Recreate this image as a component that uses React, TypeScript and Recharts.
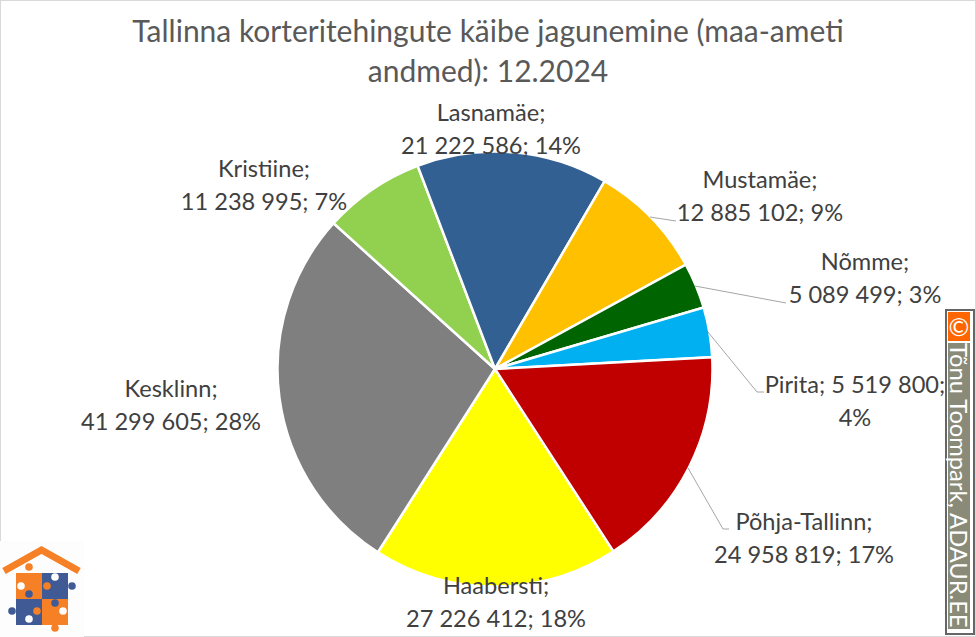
import { PieChart, Pie, Cell } from 'recharts';

const districts = ['Haabersti', 'Kesklinn', 'Kristiine', 'Lasnamäe', 'Mustamäe', 'Nõmme', 'Pirita', 'Põhja-Tallinn'];
const turnover = [27226412, 41299605, 11238995, 21222586, 12885102, 5089499, 5519800, 24958819];
const sliceColors = ['#FFFF00', '#7F7F7F', '#92D050', '#336092', '#FFC000', '#006400', '#00B0F0', '#C00000'];

// label text lines per slice, same order as districts
const labelLines = [
  ['Haabersti;', '27 226 412; 18%'],
  ['Kesklinn;', '41 299 605; 28%'],
  ['Kristiine;', '11 238 995; 7%'],
  ['Lasnamäe;', '21 222 586; 14%'],
  ['Mustamäe;', '12 885 102; 9%'],
  ['Nõmme;', '5 089 499; 3%'],
  ['Pirita; 5 519 800;', '4%'],
  ['Põhja-Tallinn;', '24 958 819; 17%'],
];

// hand placed, Excel moved these around
const labelAnchors = [
  { x: 496, y: 594 },
  { x: 171, y: 397 },
  { x: 264, y: 177 },
  { x: 491, y: 121 },
  { x: 760, y: 188 },
  { x: 865, y: 270 },
  { x: 855, y: 393 },
  { x: 804, y: 530 },
];

const leaderLines: Record<number, string> = {
  4: '650,217 676,221',
  5: '695,286 786,303',
  6: '708,332 757,392 764,392',
  7: '688,468 723,529 729,529',
};

const chartData = districts.map((name, i) => ({ name, value: turnover[i] }));

const renderLabel = ({ index }: { index: number }) => {
  const pos = labelAnchors[index];
  return (
    <g key={index}>
      {leaderLines[index] && <polyline points={leaderLines[index]} fill="none" stroke="#A6A6A6" strokeWidth={1} />}
      <text x={pos.x} y={pos.y} textAnchor="middle" fontFamily="Lato" fontSize={23.6} fill="#404040">
        <tspan x={pos.x}>{labelLines[index][0]}</tspan>
        <tspan x={pos.x} dy={33}>{labelLines[index][1]}</tspan>
      </text>
    </g>
  );
};

function Logo() {
  const orange = '#F58026';
  const blue = '#3F5A94';
  return (
    <svg width={84} height={96} viewBox="0 0 84 96" style={{ position: 'absolute', left: 0, top: 541 }}>
      <rect width={84} height={96} fill="#FDFDFD" />
      <polyline points="4,30 41.5,9 79,30" fill="none" stroke={orange} strokeWidth={7} />
      <circle cx={29} cy={26} r={3.8} fill={orange} />
      <rect x={16} y={32} width={26} height={26} fill={orange} />
      <rect x={42} y={32} width={26} height={26} fill={blue} />
      <rect x={16} y={58} width={26} height={26} fill={blue} />
      <rect x={42} y={58} width={26} height={26} fill={orange} />
      <circle cx={72} cy={45} r={3.8} fill={blue} />
      <circle cx={12} cy={70} r={3.8} fill={blue} />
      <circle cx={55} cy={87} r={3.8} fill={orange} />
      <circle cx={47} cy={45} r={3.8} fill={orange} />
      <circle cx={55} cy={36} r={3.8} fill="#FDFDFD" />
      <circle cx={21} cy={45} r={3.8} fill="#FDFDFD" />
      <circle cx={29} cy={53} r={3.8} fill={blue} />
      <circle cx={37} cy={70} r={3.8} fill={orange} />
      <circle cx={55} cy={62} r={3.8} fill={blue} />
      <circle cx={63} cy={70} r={3.8} fill="#FDFDFD" />
      <circle cx={29} cy={78} r={3.8} fill="#FDFDFD" />
    </svg>
  );
}

function Watermark() {
  return (
    <div style={{ position: 'absolute', left: 945, top: 309, width: 30, height: 326, boxSizing: 'border-box', border: '2px solid #666666', background: '#FFFFFF', padding: 1 }}>
      <div style={{ width: 22, height: 29, background: '#FF6600', color: '#FFFFFF', fontFamily: 'Lato', fontSize: 25, lineHeight: '29px', textAlign: 'center' }}>©</div>
      <div style={{ width: 22, height: 286, marginTop: 2, background: '#8A8A78', color: '#FFFFFF', fontFamily: 'Lato', fontSize: 23.7, lineHeight: '23px', writingMode: 'vertical-rl', whiteSpace: 'nowrap' }}>
        Tõnu Toompark, ADAUR.EE
      </div>
    </div>
  );
}

export default function App() {
  return (
    <div style={{ position: 'absolute', left: 0, top: 0, width: 976, height: 637, background: '#FFFFFF', overflow: 'hidden' }}>
      <div style={{ position: 'absolute', left: 0, top: 0, width: 976, height: 637, boxSizing: 'border-box', border: '1px solid #D9D9D9' }} />
      <div style={{ position: 'absolute', left: 0, top: 10, width: 976, textAlign: 'center', fontFamily: 'Lato', fontSize: 30, lineHeight: '40px', color: '#595959' }}>
        Tallinna korteritehingute käibe jagunemine (maa-ameti
        <br />
        andmed): 12.2024
      </div>
      <div style={{ position: 'absolute', left: 0, top: 0 }}>
        <PieChart width={976} height={637} margin={{ top: 0, right: 0, bottom: 0, left: 0 }}>
          <Pie
            data={chartData}
            dataKey="value"
            nameKey="name"
            cx={495}
            cy={369}
            innerRadius={0}
            outerRadius={217.5}
            startAngle={-57}
            endAngle={-417}
            stroke="#FFFFFF"
            strokeWidth={2.5}
            label={renderLabel}
            labelLine={false}
            isAnimationActive={false}
          >
            {chartData.map((d, i) => (
              <Cell key={d.name} fill={sliceColors[i]} />
            ))}
          </Pie>
        </PieChart>
      </div>
      <Logo />
      <Watermark />
    </div>
  );
}
